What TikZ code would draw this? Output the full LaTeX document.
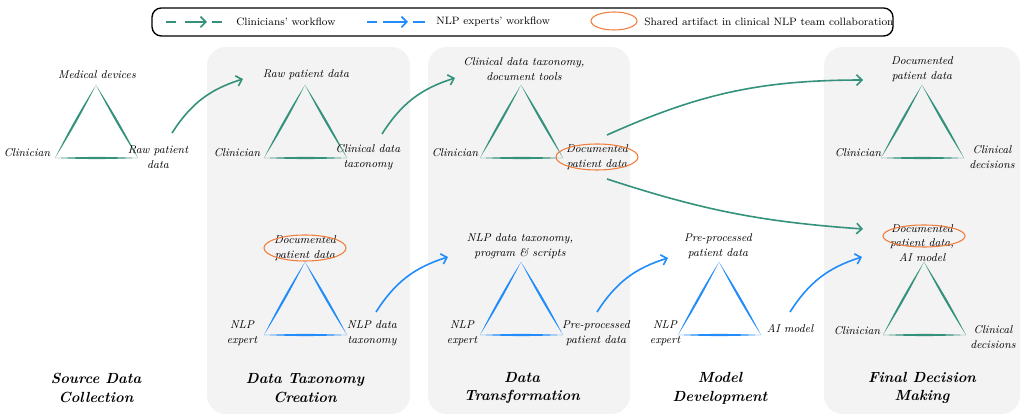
\documentclass[tikz,border=0pt]{standalone}
\usetikzlibrary{arrows.meta,positioning}
\definecolor{clin}{RGB}{52,146,124}
\definecolor{nlp}{RGB}{33,140,250}
\definecolor{art}{RGB}{240,125,60}
\definecolor{panel}{RGB}{243,243,243}
\tikzset{
  >={Straight Barb[length=4pt,width=8pt]},
  lbl/.style={font=\fontsize{8.5}{11}\selectfont\itshape,align=center,inner sep=1pt},
  stage/.style={font=\fontsize{11}{14}\selectfont\bfseries\itshape,align=center},
  legend/.style={font=\fontsize{8}{10}\selectfont,anchor=west,inner sep=0pt},
  clinflow/.style={->,draw=clin,line width=1.2pt},
  nlpflow/.style={->,draw=nlp,line width=1.2pt},
  shared/.style={draw=art,line width=0.8pt}
}
% one brush-like side of a triangle
\newcommand\brush[3]{\fill[#1] (#2) to[bend left=2.5] (#3) to[bend left=2.5] (#2);}
% triangle: name, colour, apex x, apex y
\newcommand\trio[4]{%
  \coordinate (#1-t) at (#3,#4);
  \coordinate (#1-l) at (#3-41,#4+73);
  \coordinate (#1-r) at (#3+42,#4+73);
  \brush{#2}{#1-t}{#1-l}
  \brush{#2}{#1-t}{#1-r}
  \brush{#2}{#1-l}{#1-r}}

\begin{document}
\begin{tikzpicture}[x=0.75pt,y=-0.75pt]
  \useasboundingbox (0,0) rectangle (1025,416);

  % stage panels
  \fill[panel,rounded corners=14] (207,47) rectangle (410,414);
  \fill[panel,rounded corners=14] (428,47) rectangle (630,414);
  \fill[panel,rounded corners=14] (824,47) rectangle (1020,414);

  % legend
  \draw[line width=1pt,rounded corners=7] (152,8) rectangle (893,36);
  \draw[clin,line width=1.2pt] (166,22) -- (176,22);
  \draw[clinflow] (185,22) -- (207,22);
  \draw[clin,line width=1.2pt] (212,22) -- (222,22);
  \node[legend] (lgclin) at (236,22) {Clinicians' workflow};
  \draw[nlp,line width=1.2pt] (367,22) -- (377,22);
  \draw[nlpflow] (383,22) -- (408,22);
  \draw[nlp,line width=1.2pt] (413,22) -- (425,22);
  \node[legend] (lgnlp) at (436,22) {NLP experts' workflow};
  \draw[shared] (614,21) ellipse (23 and 9);
  \node[legend] (lgart) at (644,22) {Shared artifact in clinical NLP team collaboration};

  % source data collection
  \trio{sd}{clin}{96}{85}
  \node[lbl] (sdtop) at (97,75) {Medical devices};
  \node[lbl] (sdleft) at (27,153) {Clinician};
  \node[lbl] (sdright) at (158,157) {Raw patient\\data};

  % data taxonomy creation
  \trio{dc}{clin}{305}{85}
  \node[lbl] (dctop) at (306,75) {Raw patient data};
  \node[lbl] (dcleft) at (237,153) {Clinician};
  \node[lbl] (dcright) at (368,157) {Clinical data\\taxonomy};
  \trio{dn}{nlp}{305}{262}
  \node[lbl] (dntop) at (305,248) {Documented\\patient data};
  \draw[shared] (dntop.center) ellipse (41 and 13);
  \node[lbl] (dnleft) at (242,333) {NLP\\expert};
  \node[lbl] (dnright) at (372,333) {NLP data\\taxonomy};

  % data transformation
  \trio{tc}{clin}{521}{85}
  \node[lbl] (tctop) at (524,69) {Clinical data taxonomy,\\document tools};
  \node[lbl] (tcleft) at (455,153) {Clinician};
  \node[lbl] (tcright) at (597,157) {Documented\\patient data};
  \draw[shared] (tcright.center) ellipse (41 and 13);
  \trio{tn}{nlp}{521}{262}
  \node[lbl] (tntop) at (520,246) {NLP data taxonomy,\\program \& scripts};
  \node[lbl] (tnleft) at (462,333) {NLP\\expert};
  \node[lbl] (tnright) at (596,333) {Pre-processed\\patient data};

  % model development
  \trio{md}{nlp}{719}{262}
  \node[lbl] (mdtop) at (718,246) {Pre-processed\\patient data};
  \node[lbl] (mdleft) at (665,333) {NLP\\expert};
  \node[lbl] (mdright) at (790,329) {AI model};

  % final decision making
  \trio{fc}{clin}{922}{85}
  \node[lbl] (fctop) at (922,69) {Documented\\patient data};
  \node[lbl] (fcleft) at (858,153) {Clinician};
  \node[lbl] (fcright) at (992,157) {Clinical\\decisions};
  \trio{fn}{clin}{924}{262}
  \node[lbl] (fntop) at (922,243) {Documented\\patient data,\\AI model};
  \draw[shared] ([shift={(2,-7)}]fntop.center) ellipse (41 and 11);
  \node[lbl] (fnleft) at (857,331) {Clinician};
  \node[lbl] (fnright) at (993,337) {Clinical\\decisions};

  % stage titles
  \node[stage] (st1) at (96,388) {Source Data\\Collection};
  \node[stage] (st2) at (305,388) {Data Taxonomy\\Creation};
  \node[stage] (st3) at (522,388) {Data\\Transformation};
  \node[stage] (st4) at (720,388) {Model\\Development};
  \node[stage] (st5) at (922,388) {Final Decision\\Making};

  % workflows
  \draw[clinflow] ([shift={(14,-24)}]sdright.center) to[bend left=20] ([shift={(-63,4)}]dctop.center);
  \draw[clinflow] ([shift={(14,-23)}]dcright.center) to[bend left=20] ([shift={(-69,9)}]tctop.center);
  \draw[clinflow] ([shift={(10,-22)}]tcright.center) to[bend left=12] ([shift={(-59,11)}]fctop.center);
  \draw[clinflow] ([shift={(10,22)}]tcright.center) to[bend right=7] ([shift={(-59,-14)}]fntop.center);
  \draw[nlpflow] ([shift={(4,-21)}]dnright.center) to[bend left=20] ([shift={(-72,11)}]tntop.center);
  \draw[nlpflow] ([shift={(1,-21)}]tnright.center) to[bend left=20] ([shift={(-50,12)}]mdtop.center);
  \draw[nlpflow] ([shift={(0,-17)}]mdright.center) to[bend left=20] ([shift={(-60,14)}]fntop.center);
\end{tikzpicture}
\end{document}
